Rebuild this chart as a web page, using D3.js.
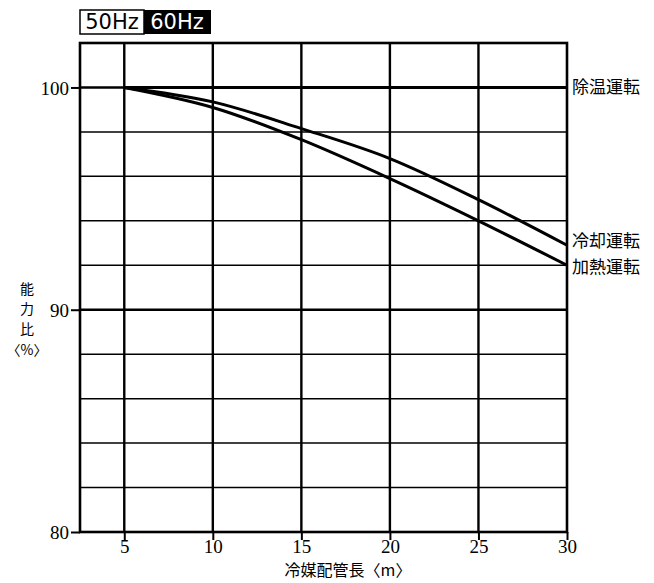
<!DOCTYPE html>
<html>
<head>
<meta charset="utf-8">
<script src="https://cdn.jsdelivr.net/npm/d3@7"></script>
<style>
  body { margin: 0; background: #fff; }
  svg { display: block; }
</style>
</head>
<body>
<div id="chart"></div>
<script>
// pipe length (m) vs capacity ratio (%)
var lengths = [5, 10, 15, 20, 25, 30];
var cooling = [100, 99.35, 98.15, 96.8, 94.95, 92.9];
var heating = [100, 99.1, 97.65, 95.9, 94.0, 92.0];
var dehumid = [100, 100, 100, 100, 100, 100];

var xTicks = [5, 10, 15, 20, 25, 30];
var yTicks = [80, 90, 100];
var yGrid = [82, 84, 86, 88, 90, 92, 94, 96, 98, 100];

var seriesLabels = ["除温運転", "冷却運転", "加熱運転"];

var W = 654, H = 583;
// plot box (don't use "top" - clashes with window.top)
var pL = 80, pR = 567, pT = 43, pB = 532;

var svg = d3.select("#chart").append("svg")
    .attr("width", W)
    .attr("height", H);

var x = d3.scaleLinear().domain([2.5, 30]).range([pL, pR]);
var y = d3.scaleLinear().domain([80, 102]).range([pB, pT]);

var serif = "'Liberation Serif', 'DejaVu Serif', serif";
var cjk = "'Noto Sans CJK JP', sans-serif";

// horizontal grid
svg.append("g").selectAll("line")
    .data(yGrid)
    .enter().append("line")
    .attr("x1", pL).attr("x2", pR)
    .attr("y1", function(d) { return y(d); })
    .attr("y2", function(d) { return y(d); })
    .attr("stroke", "#000")
    .attr("stroke-width", function(d) { return (d == 100 || d == 90) ? 2.6 : 1.5; });

// vertical grid
svg.append("g").selectAll("line")
    .data(xTicks.slice(0, -1))
    .enter().append("line")
    .attr("y1", pT).attr("y2", pB)
    .attr("x1", function(d) { return x(d); })
    .attr("x2", function(d) { return x(d); })
    .attr("stroke", "#000")
    .attr("stroke-width", 2.4);

// frame
svg.append("rect")
    .attr("x", pL).attr("y", pT)
    .attr("width", pR - pL).attr("height", pB - pT)
    .attr("fill", "none")
    .attr("stroke", "#000")
    .attr("stroke-width", 2.6);

// axes
var xAxis = svg.append("g")
    .attr("transform", "translate(0," + pB + ")")
    .call(d3.axisBottom(x).tickValues(xTicks).tickSize(8).tickPadding(0));
var yAxis = svg.append("g")
    .attr("transform", "translate(" + pL + ",0)")
    .call(d3.axisLeft(y).tickValues(yTicks).tickSize(9).tickPadding(2));

[xAxis, yAxis].forEach(function(a) {
  a.select(".domain").remove();
  a.selectAll(".tick line").attr("stroke", "#000").attr("stroke-width", 2);
  a.selectAll(".tick text")
    .attr("fill", "#000")
    .style("font-family", serif)
    .style("font-size", "19px");
});
yAxis.selectAll(".tick text").attr("dy", "0.35em");

// curves
var line = d3.line()
    .x(function(d) { return x(d[0]); })
    .y(function(d) { return y(d[1]); })
    .curve(d3.curveMonotoneX);

[dehumid, cooling, heating].forEach(function(vals) {
  svg.append("path")
    .datum(lengths.map(function(l, i) { return [l, vals[i]]; }))
    .attr("d", line)
    .attr("fill", "none")
    .attr("stroke", "#000")
    .attr("stroke-width", 3);
});

// series labels at right end
var labelY = [dehumid[5], cooling[5], heating[5]];
var labelOff = [0, -4, 2];
svg.append("g").selectAll("text")
    .data(seriesLabels)
    .enter().append("text")
    .attr("x", pR + 5)
    .attr("y", function(d, i) { return y(labelY[i]) + labelOff[i]; })
    .attr("dy", "0.35em")
    .style("font-family", cjk)
    .style("font-size", "17px")
    .attr("fill", "#000")
    .text(function(d) { return d; });

// x axis title
svg.append("text")
    .attr("x", 348)
    .attr("y", 576)
    .attr("text-anchor", "middle")
    .style("font-family", cjk)
    .style("font-size", "16px")
    .text("冷媒配管長〈m〉");

// y axis title, stacked
var yTitle = ["能", "力", "比", "〈%〉"];
var yTitlePos = [289, 309, 329, 350];
svg.append("g").selectAll("text")
    .data(yTitle)
    .enter().append("text")
    .attr("x", 27)
    .attr("y", function(d, i) { return yTitlePos[i]; })
    .attr("dy", "0.35em")
    .attr("text-anchor", "middle")
    .style("font-family", cjk)
    .style("font-size", "14px")
    .text(function(d) { return d; });

// frequency badge
var badge = svg.append("g");
badge.append("rect")
    .attr("x", 80).attr("y", 10).attr("width", 64).attr("height", 24)
    .attr("fill", "#fff").attr("stroke", "#000").attr("stroke-width", 1.5);
badge.append("rect")
    .attr("x", 144).attr("y", 10).attr("width", 67).attr("height", 24)
    .attr("fill", "#000");
badge.append("text")
    .attr("x", 112).attr("y", 22).attr("dy", "0.35em")
    .attr("text-anchor", "middle")
    .style("font-family", "'DejaVu Sans', sans-serif")
    .style("font-size", "21px")
    .attr("fill", "#000")
    .text("50Hz");
badge.append("text")
    .attr("x", 177).attr("y", 22).attr("dy", "0.35em")
    .attr("text-anchor", "middle")
    .style("font-family", "'DejaVu Sans', sans-serif")
    .style("font-size", "21px")
    .attr("fill", "#fff")
    .text("60Hz");
</script>
</body>
</html>
